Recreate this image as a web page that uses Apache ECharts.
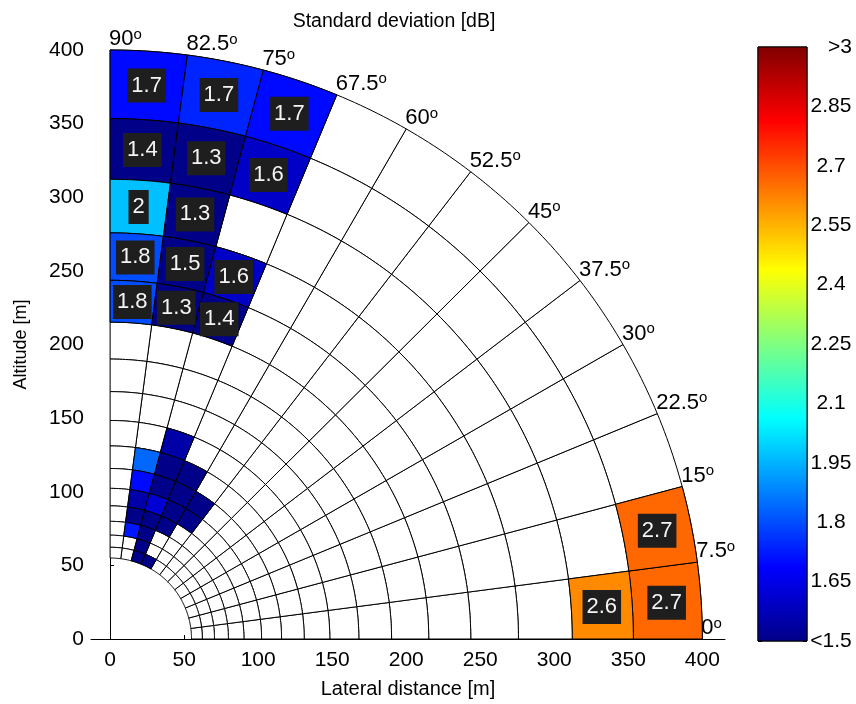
<!DOCTYPE html>
<html><head><meta charset="utf-8">
<script src="https://cdn.jsdelivr.net/npm/echarts@6/dist/echarts.min.js"></script>
<style>html,body{margin:0;padding:0;background:#fff}#c{width:856px;height:704px}</style>
</head><body><div id="c"></div>
<script>
// ---- grid geometry ----
const ringRadii = [400, 353.4, 312.2, 275.8, 243.6, 215.2, 190.1, 168.0, 148.4, 131.1, 115.8, 102.3, 90.4, 79.9, 70.5, 62.3, 55.0];
const sectorAngles = [0, 7.5, 15, 22.5, 30, 37.5, 45, 52.5, 60, 67.5, 75, 82.5, 90];
const angleLabels = ['0', '7.5', '15', '22.5', '30', '37.5', '45', '52.5', '60', '67.5', '75', '82.5', '90'];

// ---- coloured cells: sector (0 = 0°–7.5°), ring (0 = outermost), value ----
const cellSector  = [11, 10, 9,   11, 10, 9,   11, 10,   11, 10, 9,   11, 10, 9,
                     0, 0, 1,
                     9,  10, 9, 8,  10, 9, 8, 7,  10, 9, 8, 7,  10, 9, 8,  10, 9,  9,  9, 8];
const cellRing    = [0, 0, 0,   1, 1, 1,   2, 2,   3, 3, 3,   4, 4, 4,
                     0, 1, 0,
                     8,  9, 9, 9,  10, 10, 10, 10,  11, 11, 11, 11,  12, 12, 12,  13, 13,  14,  15, 15];
const cellValue   = [1.7, 1.74, 1.7,   1.4, 1.3, 1.6,   1.97, 1.3,   1.8, 1.5, 1.6,   1.8, 1.3, 1.4,
                     2.66, 2.61, 2.66,
                     1.55,  1.84, 1.4, 1.4,  1.7, 1.4, 1.4, 1.45,  1.55, 1.62, 1.4, 1.45,  1.45, 1.4, 1.45,  1.72, 1.45,  1.45,  1.45, 1.45];
const cellLabeled = [1,1,1, 1,1,1, 1,1, 1,1,1, 1,1,1, 1,1,1,
                     0, 0,0,0, 0,0,0,0, 0,0,0,0, 0,0,0, 0,0, 0, 0,0];

// ---- axes ----
const xTicks = [0, 50, 100, 150, 200, 250, 300, 350, 400];
const yTicks = [0, 50, 100, 150, 200, 250, 300, 350, 400];
const colorbarTicks  = [1.5, 1.65, 1.8, 1.95, 2.1, 2.25, 2.4, 2.55, 2.7, 2.85, 3];
const colorbarLabels = ['<1.5', '1.65', '1.8', '1.95', '2.1', '2.25', '2.4', '2.55', '2.7', '2.85', '>3'];
const jetColors = ['#000088', '#0000FF', '#0080FF', '#00FFFF', '#80FF80', '#FFFF00', '#FF8000', '#FF0000', '#800000'];

const FONT = "'Liberation Sans', Arial, sans-serif";
const D2R = Math.PI / 180;

function cellPoints(api, s, k) {
  const a0 = sectorAngles[s] * D2R, a1 = sectorAngles[s + 1] * D2R;
  const rO = ringRadii[k], rI = ringRadii[k + 1];
  const pts = [], n = 12;
  for (let i = 0; i <= n; i++) { const a = a0 + (a1 - a0) * i / n; pts.push(api.coord([rO * Math.cos(a), rO * Math.sin(a)])); }
  for (let i = n; i >= 0; i--) { const a = a0 + (a1 - a0) * i / n; pts.push(api.coord([rI * Math.cos(a), rI * Math.sin(a)])); }
  return pts;
}

const gridCells = [];
for (let s = 0; s < sectorAngles.length - 1; s++)
  for (let k = 0; k < ringRadii.length - 1; k++) gridCells.push([s, k]);

const colored = cellSector.map((s, i) => [s, cellRing[i], cellValue[i], cellLabeled[i]]);
const labeled = colored.filter(d => d[3]);

function fmt(v) { return String(Math.round(v * 10) / 10); }

const option = {
  animation: false,
  backgroundColor: '#fff',
  textStyle: { fontFamily: FONT },
  title: {
    text: 'Standard deviation [dB]', left: 389, top: 7, textAlign: 'center',
    textStyle: { fontFamily: FONT, fontSize: 19.5, fontWeight: 'normal', color: '#000' }
  },
  grid: [
    { left: 91, top: 50, width: 634, height: 591 },
    { left: 758, top: 47, width: 49, height: 594, show: true, borderColor: '#000', borderWidth: 1, backgroundColor: 'transparent' }
  ],
  xAxis: [
    {
      gridIndex: 0, type: 'value', min: -12.9, max: 415.3,
      name: 'Lateral distance [m]', nameLocation: 'middle', nameGap: 40,
      nameTextStyle: { fontFamily: FONT, fontSize: 20, color: '#000' },
      axisLine: { show: true, lineStyle: { color: '#000', width: 1 } },
      axisTick: { show: true, inside: true, length: 4, customValues: xTicks, lineStyle: { color: '#000' } },
      axisLabel: { customValues: xTicks, fontFamily: FONT, fontSize: 21, color: '#000', margin: 11 },
      splitLine: { show: false }
    },
    { gridIndex: 1, type: 'value', min: 0, max: 1, show: false }
  ],
  yAxis: [
    {
      gridIndex: 0, type: 'value', min: 0, max: 400, interval: 50,
      name: 'Altitude [m]', nameLocation: 'middle', nameGap: 61, nameRotate: 90,
      nameTextStyle: { fontFamily: FONT, fontSize: 18, color: '#000' },
      axisLine: { show: true, lineStyle: { color: '#000', width: 1 } },
      axisTick: { show: true, inside: true, length: 4, customValues: yTicks, lineStyle: { color: '#000' } },
      axisLabel: { customValues: yTicks, fontFamily: FONT, fontSize: 21, color: '#000', margin: 7 },
      splitLine: { show: false }
    },
    {
      gridIndex: 1, type: 'value', min: 1.5, max: 3, position: 'left',
      axisLine: { show: false },
      axisTick: { show: true, inside: true, length: 4, customValues: colorbarTicks, lineStyle: { color: '#000' } },
      axisLabel: { show: false },
      splitLine: { show: false }
    },
    {
      gridIndex: 1, type: 'value', min: 1.5, max: 3, position: 'right',
      axisLine: { show: false },
      axisTick: { show: true, inside: true, length: 4, customValues: colorbarTicks, lineStyle: { color: '#000' } },
      axisLabel: {
        customValues: colorbarTicks, fontFamily: FONT, fontSize: 21, color: '#000', margin: 24, align: 'center',
        formatter: v => {
          const i = colorbarTicks.findIndex(t => Math.abs(t - v) < 1e-6);
          if (i < 0) return '';
          return i === colorbarTicks.length - 1 ? '{s|' + colorbarLabels[i] + '}' : colorbarLabels[i];
        },
        rich: { s: { fontFamily: FONT, fontSize: 21, color: '#000', padding: [0, 0, 0, 18] } }
      },
      splitLine: { show: false }
    }
  ],
  visualMap: {
    show: false, type: 'continuous', seriesIndex: 1, dimension: 2,
    min: 1.5, max: 3, inRange: { color: jetColors }, outOfRange: { color: jetColors[0] }
  },
  series: [
    {
      type: 'custom', xAxisIndex: 0, yAxisIndex: 0, z: 3, silent: true,
      data: gridCells,
      renderItem: (params, api) => ({
        type: 'polygon', shape: { points: cellPoints(api, api.value(0), api.value(1)) },
        style: { fill: '#fff', stroke: '#000', lineWidth: 1 }
      })
    },
    {
      type: 'custom', xAxisIndex: 0, yAxisIndex: 0, z: 4, silent: true,
      data: colored,
      renderItem: (params, api) => ({
        type: 'polygon', shape: { points: cellPoints(api, api.value(0), api.value(1)) },
        style: { fill: api.visual('color'), stroke: '#000', lineWidth: 1 }
      })
    },
    {
      type: 'custom', xAxisIndex: 0, yAxisIndex: 0, z: 5, silent: true,
      data: labeled,
      renderItem: (params, api) => {
        const s = api.value(0), k = api.value(1);
        const a = (sectorAngles[s] + sectorAngles[s + 1]) / 2 * D2R;
        const r = (ringRadii[k] + ringRadii[k + 1]) / 2;
        const p = api.coord([r * Math.cos(a), r * Math.sin(a)]);
        return {
          type: 'text', x: p[0], y: p[1],
          style: {
            text: fmt(api.value(2)), align: 'center', verticalAlign: 'middle',
            fill: '#f4f4f4', font: `22px ${FONT}`,
            backgroundColor: '#1e1e1e', padding: [7, 4, 5, 4]
          }
        };
      }
    },
    {
      type: 'custom', xAxisIndex: 0, yAxisIndex: 0, z: 6, silent: true,
      data: sectorAngles.map((a, i) => [a, i]),
      renderItem: (params, api) => {
        const a = api.value(0) * D2R, R = ringRadii[0];
        const p = api.coord([R * Math.cos(a), R * Math.sin(a)]);
        return {
          type: 'text', x: p[0] - 1, y: p[1] + 1,
          style: {
            text: `{n|${angleLabels[api.value(1)]}}{o|o}`, align: 'left', verticalAlign: 'bottom',
            rich: {
              n: { fontFamily: FONT, fontSize: 22, lineHeight: 24, fill: '#000', color: '#000' },
              o: { fontFamily: FONT, fontSize: 15, lineHeight: 24, verticalAlign: 'top', fill: '#000', color: '#000' }
            }
          }
        };
      }
    },
    {
      type: 'custom', xAxisIndex: 1, yAxisIndex: 1, z: 3, silent: true,
      data: [[0, colorbarTicks[0], colorbarTicks[colorbarTicks.length - 1]]],
      renderItem: (params, api) => {
        const p0 = api.coord([0, api.value(2)]), p1 = api.coord([1, api.value(1)]);
        const stops = jetColors.map((c, i) => ({ offset: 1 - i / (jetColors.length - 1), color: c })).reverse();
        return {
          type: 'rect', shape: { x: p0[0], y: p0[1], width: p1[0] - p0[0], height: p1[1] - p0[1] },
          style: { fill: new echarts.graphic.LinearGradient(0, 0, 0, 1, stops), stroke: '#000', lineWidth: 1 }
        };
      }
    }
  ]
};

const chart = echarts.init(document.getElementById('c'), null, { renderer: 'canvas' });
chart.setOption(option);
</script>
</body></html>
